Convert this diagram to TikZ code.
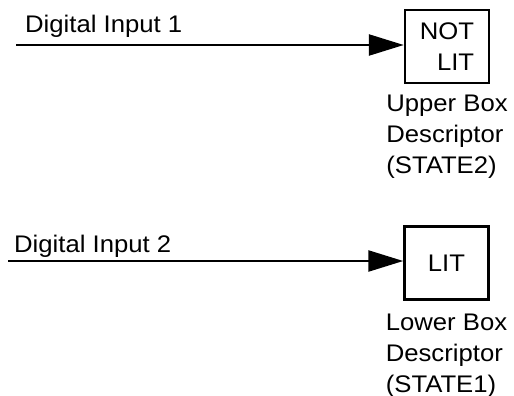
\documentclass[tikz,border=0pt]{standalone}
\usepackage{fontspec}
\setmainfont{Liberation Sans}[FakeStretch=1.07]
\usetikzlibrary{arrows.meta,positioning}
\tikzset{
	signal/.style={line width=2.5pt, -{Triangle[length=35pt,width=21pt]}},
	lampbox/.style={draw, line width=2.5pt, minimum width=84pt, minimum height=73pt, inner sep=0pt, align=right},
	descr/.style={align=left, inner sep=0pt, anchor=north}
}
\begin{document}
\begin{tikzpicture}[x=1pt,y=-1pt,font=\fontsize{24}{31}\selectfont]
	
	\useasboundingbox (0,0) rectangle (514,396);
	
	% upper box
	\node[lampbox] (upbox) at (447,46.5) {NOT\\ LIT};
	\node[descr, below=11pt of upbox.south] (updesc) {Upper Box\\Descriptor\\(STATE2)};
	
	% lower box
	\node[lampbox] (lowbox) at (446.5,263) {LIT};
	\node[descr, below=13pt of lowbox.south] (lowdesc) {Lower Box\\Descriptor\\(STATE1)};
	
	% inputs
	\coordinate (in1) at (16,45);
	\coordinate (in2) at (8,261);
	\node[anchor=base west, inner sep=0pt] (lab1) at (25,33) {Digital Input 1};
	\node[anchor=base west, inner sep=0pt] (lab2) at (14,252) {Digital Input 2};
	
	\draw[signal] (in1) -- (in1 -| upbox.west);
	\draw[signal] (in2) -- (in2 -| lowbox.west);
	
\end{tikzpicture}
\end{document}
